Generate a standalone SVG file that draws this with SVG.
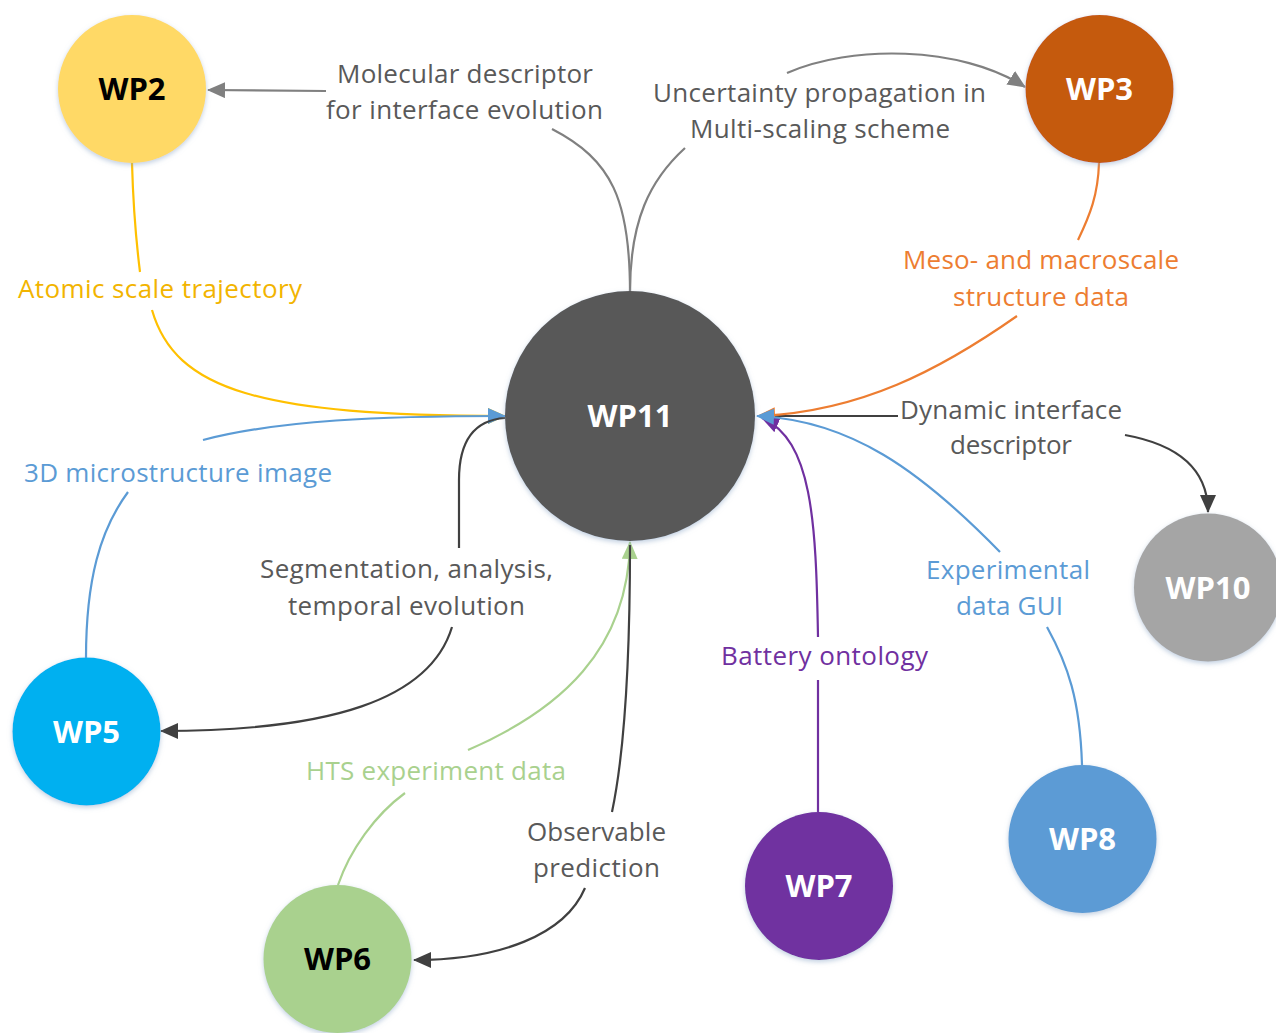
<svg xmlns="http://www.w3.org/2000/svg" width="1276" height="1033" viewBox="0 0 1276 1033">
<style>
.lbl{font-family:"Open Sans","Liberation Sans",sans-serif;font-size:26px;text-anchor:middle}
.gray{fill:#595959}
.nt{font-family:"Open Sans","Liberation Sans",sans-serif;font-size:31px;font-weight:bold;text-anchor:middle}
.c{fill:none;stroke-width:2.2}
</style>
<defs>
<filter id="sh" x="-20%" y="-20%" width="140%" height="140%">
<feDropShadow dx="0" dy="2" stdDeviation="2.5" flood-color="#8fa8c8" flood-opacity="0.55"/>
</filter>
<marker id="aG" viewBox="0 0 18 16" refX="17" refY="8" markerWidth="18" markerHeight="16" markerUnits="userSpaceOnUse" orient="auto"><path d="M0,0 L18,8 L0,16 z" fill="#808080"/></marker>
<marker id="aD" viewBox="0 0 18 16" refX="17" refY="8" markerWidth="18" markerHeight="16" markerUnits="userSpaceOnUse" orient="auto"><path d="M0,0 L18,8 L0,16 z" fill="#404040"/></marker>
<marker id="aY" viewBox="0 0 18 16" refX="17" refY="8" markerWidth="18" markerHeight="16" markerUnits="userSpaceOnUse" orient="auto"><path d="M0,0 L18,8 L0,16 z" fill="#FFC000"/></marker>
<marker id="aB" viewBox="0 0 18 16" refX="17" refY="8" markerWidth="18" markerHeight="16" markerUnits="userSpaceOnUse" orient="auto"><path d="M0,0 L18,8 L0,16 z" fill="#5B9BD5"/></marker>
<marker id="aO" viewBox="0 0 18 16" refX="17" refY="8" markerWidth="18" markerHeight="16" markerUnits="userSpaceOnUse" orient="auto"><path d="M0,0 L18,8 L0,16 z" fill="#ED7D31"/></marker>
<marker id="aP" viewBox="0 0 18 16" refX="17" refY="8" markerWidth="18" markerHeight="16" markerUnits="userSpaceOnUse" orient="auto"><path d="M0,0 L18,8 L0,16 z" fill="#7030A0"/></marker>
<marker id="aN" viewBox="0 0 18 16" refX="17" refY="8" markerWidth="18" markerHeight="16" markerUnits="userSpaceOnUse" orient="auto"><path d="M0,0 L18,8 L0,16 z" fill="#A9D18E"/></marker>
</defs>
<rect width="1276" height="1033" fill="#ffffff"/>

<g id="connectors">
<path class="c" stroke="#808080" d="M630,292 C630,200 612,160 552,129"/>
<path class="c" stroke="#808080" d="M326,91 L208,90" marker-end="url(#aG)"/>
<path class="c" stroke="#808080" d="M630,292 C630,220 650,180 685,148"/>
<path class="c" stroke="#808080" d="M787,73 C850,45 960,45 1025,87" marker-end="url(#aG)"/>
<path class="c" stroke="#FFC000" d="M132,163 C133,200 136,240 140,272"/>
<path class="c" stroke="#FFC000" d="M152,310 C175,390 260,416 505,416" marker-end="url(#aY)"/>
<path class="c" stroke="#5B9BD5" d="M86,658 C86,580 100,530 128,492"/>
<path class="c" stroke="#5B9BD5" d="M203,440 C280,420 380,416 505,416" marker-end="url(#aB)"/>
<path class="c" stroke="#404040" d="M505,418 C475,420 459,440 459,480 L459,548"/>
<path class="c" stroke="#404040" d="M452,627 C430,700 330,731 161,731" marker-end="url(#aD)"/>
<path class="c" stroke="#A9D18E" d="M338,885 C350,850 375,815 405,793"/>
<path class="c" stroke="#A9D18E" d="M468,750 C560,710 628,650 630,542" marker-end="url(#aN)"/>
<path class="c" stroke="#404040" d="M630,545 C630,650 625,750 612,812"/>
<path class="c" stroke="#404040" d="M585,888 C565,935 500,960 414,960" marker-end="url(#aD)"/>
<path class="c" stroke="#404040" d="M757,416 L898,416"/>
<path class="c" stroke="#404040" d="M1125,435 C1180,445 1208,470 1208,512" marker-end="url(#aD)"/>
<path class="c" stroke="#ED7D31" d="M1099,163 C1098,195 1090,215 1078,240"/>
<path class="c" stroke="#ED7D31" d="M1017,316 C940,370 860,412 758,416" marker-end="url(#aO)"/>
<path class="c" stroke="#7030A0" d="M818,812 L818,680"/>
<path class="c" stroke="#7030A0" d="M818,637 C816,520 812,440 762,418" marker-end="url(#aP)"/>
<path class="c" stroke="#5B9BD5" d="M1082,765 C1080,700 1068,665 1047,627"/>
<path class="c" stroke="#5B9BD5" d="M1000,552 C920,470 850,420 757,416" marker-end="url(#aB)"/>
</g>

<g id="labels">
<text class="lbl gray" x="465" y="83" textLength="256">Molecular descriptor</text>
<text class="lbl gray" x="464.5" y="119" textLength="277">for interface evolution</text>
<text class="lbl gray" x="819.5" y="102" textLength="333">Uncertainty propagation in</text>
<text class="lbl gray" x="820" y="138" textLength="260">Multi-scaling scheme</text>
<text class="lbl" fill="#F2B400" x="160" y="298" textLength="284">Atomic scale trajectory</text>
<text class="lbl" fill="#ED7D31" x="1041" y="269" textLength="276">Meso- and macroscale</text>
<text class="lbl" fill="#ED7D31" x="1041" y="306" textLength="176">structure data</text>
<text class="lbl gray" x="1011" y="419" textLength="222">Dynamic interface</text>
<text class="lbl gray" x="1011" y="454" textLength="122">descriptor</text>
<text class="lbl" fill="#5B9BD5" x="178" y="482" textLength="308">3D microstructure image</text>
<text class="lbl gray" x="406.5" y="578" textLength="293">Segmentation, analysis,</text>
<text class="lbl gray" x="406.5" y="615" textLength="237">temporal evolution</text>
<text class="lbl" fill="#5B9BD5" x="1008" y="579" textLength="164">Experimental</text>
<text class="lbl" fill="#5B9BD5" x="1009.5" y="615" textLength="107">data GUI</text>
<text class="lbl" fill="#7030A0" x="824.5" y="665" textLength="207">Battery ontology</text>
<text class="lbl" fill="#A9D18E" x="436" y="780" textLength="260">HTS experiment data</text>
<text class="lbl gray" x="596.5" y="841" textLength="139">Observable</text>
<text class="lbl gray" x="596.5" y="877" textLength="127">prediction</text>
</g>

<g id="WP2"><circle cx="132" cy="89" r="74" fill="#FFD966" filter="url(#sh)"/><text class="nt" x="132" y="100" fill="#000000">WP2</text></g>
<g id="WP3"><circle cx="1099.5" cy="89" r="74" fill="#C55A11" filter="url(#sh)"/><text class="nt" x="1099.5" y="100" fill="#ffffff">WP3</text></g>
<g id="WP11"><circle cx="630" cy="416" r="125" fill="#595959" filter="url(#sh)"/><text class="nt" x="630" y="427" fill="#ffffff">WP11</text></g>
<g id="WP10"><circle cx="1208" cy="587.5" r="74" fill="#A5A5A5" filter="url(#sh)"/><text class="nt" x="1208" y="598.5" fill="#ffffff">WP10</text></g>
<g id="WP5"><circle cx="86.5" cy="731.5" r="74" fill="#00B0F0" filter="url(#sh)"/><text class="nt" x="86.5" y="742.5" fill="#ffffff">WP5</text></g>
<g id="WP6"><circle cx="337.5" cy="959" r="74" fill="#A9D18E" filter="url(#sh)"/><text class="nt" x="337.5" y="970" fill="#000000">WP6</text></g>
<g id="WP7"><circle cx="819" cy="886" r="74" fill="#7030A0" filter="url(#sh)"/><text class="nt" x="819" y="897" fill="#ffffff">WP7</text></g>
<g id="WP8"><circle cx="1082.5" cy="839" r="74" fill="#5B9BD5" filter="url(#sh)"/><text class="nt" x="1082.5" y="850" fill="#ffffff">WP8</text></g>
</svg>
